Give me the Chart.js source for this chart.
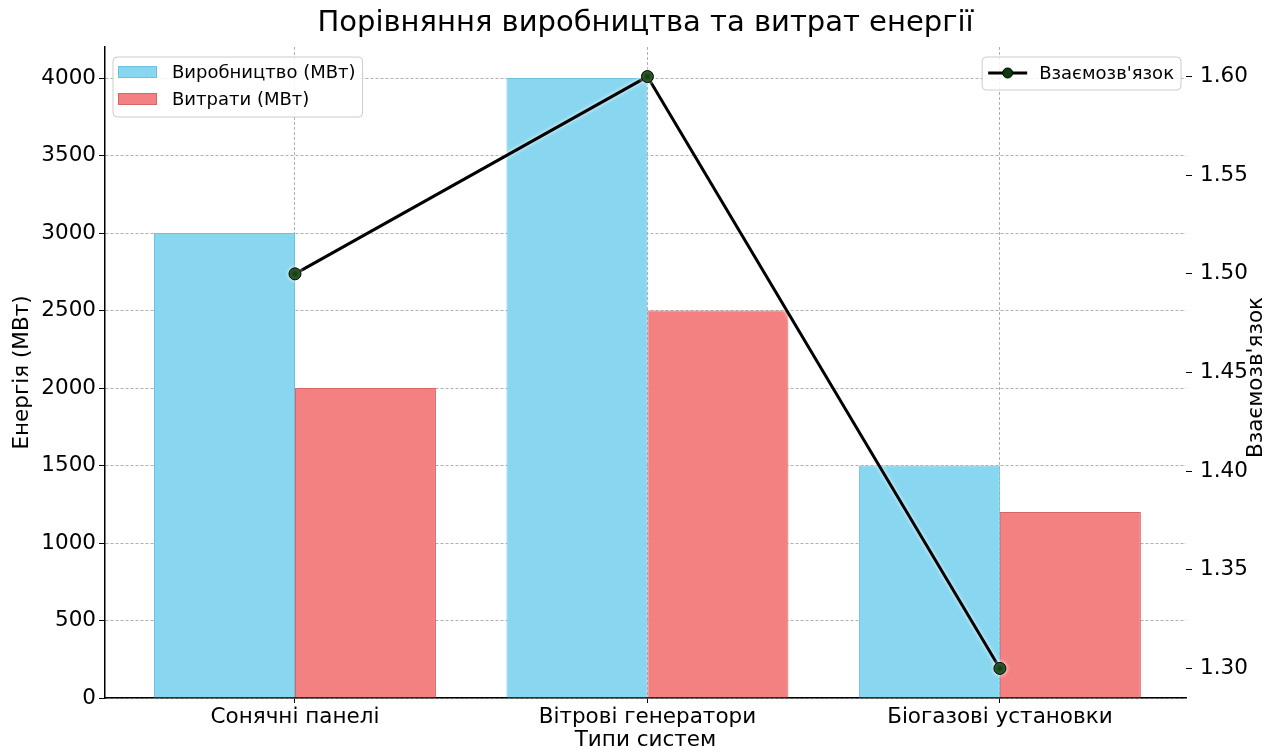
<!DOCTYPE html>
<html><head><meta charset="utf-8">
<script src="https://cdn.jsdelivr.net/npm/chart.js@4.4.0/dist/chart.umd.min.js"></script>
<style>html,body{margin:0;padding:0;background:#fff;overflow:hidden}#wrap{width:1273px;height:751px}</style>
</head><body><div id="wrap"><canvas id="c" width="1273" height="751"></canvas></div>
<script>
const chartTitle = 'Порівняння виробництва та витрат енергії';
const categories = ['Сонячні панелі', 'Вітрові генератори', 'Біогазові установки'];
const production = [3000, 4000, 1500];
const consumption = [2000, 2500, 1200];
const relation = [1.50, 1.60, 1.30];
const leftTicks = [0, 500, 1000, 1500, 2000, 2500, 3000, 3500, 4000];
const rightTicks = [1.30, 1.35, 1.40, 1.45, 1.50, 1.55, 1.60];
const seriesNames = ['Виробництво (МВт)', 'Витрати (МВт)', "Взаємозв'язок"];
const xTitle = 'Типи систем';
const yTitle = 'Енергія (МВт)';
const y1Title = "Взаємозв'язок";

const FONT = "'DejaVu Sans', sans-serif";
const AX = 21.5;
const BLUE = '#88d6ef', BLUE_B = '#6cc2df';
const RED = '#f48182', RED_B = '#d86666';

const glowPlugin = {
  id: 'glow',
  beforeDatasetDraw(chart, args) {
    if (args.index === 2) {
      const ctx = chart.ctx;
      ctx.save();
      ctx.shadowColor = 'rgba(255,255,255,0.9)';
      ctx.shadowBlur = 4;
    }
  },
  afterDatasetDraw(chart, args) {
    if (args.index === 2) chart.ctx.restore();
  }
};

function legendBox(ctx, x, y, w, h) {
  ctx.save();
  ctx.fillStyle = 'rgba(255,255,255,0.85)';
  ctx.strokeStyle = '#cccccc';
  ctx.lineWidth = 1;
  const r = 4;
  ctx.beginPath();
  ctx.moveTo(x + r, y);
  ctx.arcTo(x + w, y, x + w, y + h, r);
  ctx.arcTo(x + w, y + h, x, y + h, r);
  ctx.arcTo(x, y + h, x, y, r);
  ctx.arcTo(x, y, x + w, y, r);
  ctx.closePath();
  ctx.fill();
  ctx.stroke();
  ctx.restore();
}

const customPlugin = {
  id: 'custom',
  afterDraw(chart) {
    const ctx = chart.ctx;
    const a = chart.chartArea;
    ctx.save();
    ctx.font = '18px ' + FONT;
    ctx.textBaseline = 'middle';
    ctx.fillStyle = '#000';
    const ds = chart.data.datasets;
    // left legend
    const w1 = Math.max(ctx.measureText(ds[0].label).width, ctx.measureText(ds[1].label).width);
    const lx = 113, ly = 57;
    legendBox(ctx, lx, ly, 66 + w1, 60);
    [[ds[0], 72], [ds[1], 99]].forEach(([d, yy]) => {
      ctx.fillStyle = d.backgroundColor;
      ctx.strokeStyle = d.borderColor;
      ctx.lineWidth = 1;
      ctx.fillRect(lx + 5, yy - 6, 39, 12);
      ctx.strokeRect(lx + 5.5, yy - 5.5, 38, 11);
      ctx.fillStyle = '#000';
      ctx.fillText(d.label, lx + 59, yy + 1);
    });
    // right legend
    const w2 = ctx.measureText(ds[2].label).width;
    const rw = 64 + w2;
    const rx = a.right - 5 - rw, ry = 57;
    legendBox(ctx, rx, ry, rw, 33);
    const cy = ry + 16;
    ctx.strokeStyle = '#000';
    ctx.lineWidth = 3;
    ctx.beginPath();
    ctx.moveTo(rx + 6, cy); ctx.lineTo(rx + 45, cy); ctx.stroke();
    ctx.beginPath();
    ctx.arc(rx + 25.5, cy, 5, 0, Math.PI * 2);
    ctx.fillStyle = '#0b3d0b'; ctx.fill();
    ctx.lineWidth = 1; ctx.stroke();
    ctx.fillStyle = '#000';
    ctx.fillText(ds[2].label, rx + 57, cy + 1);
    // right axis title (reads bottom to top)
    ctx.font = AX + 'px ' + FONT;
    ctx.textAlign = 'center';
    ctx.translate(1256, (a.top + a.bottom) / 2 + 5);
    ctx.rotate(-Math.PI / 2);
    ctx.fillText(y1Title, 0, 0);
    ctx.restore();
  }
};

new Chart(document.getElementById('c'), {
  type: 'bar',
  data: {
    datasets: [
      {
        type: 'bar', label: seriesNames[0], order: 2,
        data: categories.map((c, i) => ({ x: i, y: production[i] })),
        backgroundColor: BLUE, borderColor: BLUE_B, borderWidth: 1,
        xAxisID: 'x', yAxisID: 'y'
      },
      {
        type: 'bar', label: seriesNames[1], order: 2,
        data: categories.map((c, i) => ({ x: i, y: consumption[i] })),
        backgroundColor: RED, borderColor: RED_B, borderWidth: 1,
        xAxisID: 'x', yAxisID: 'y'
      },
      {
        type: 'line', label: seriesNames[2], order: 0,
        data: categories.map((c, i) => ({ x: i, y: relation[i] })),
        borderColor: '#000', borderWidth: 3, tension: 0,
        pointRadius: 6, pointBackgroundColor: '#0b3d0b', pointBorderColor: '#000', pointBorderWidth: 1,
        xAxisID: 'x', yAxisID: 'y1'
      }
    ]
  },
  options: {
    responsive: false,
    animation: false,
    events: [],
    layout: { padding: 0 },
    datasets: { bar: { categoryPercentage: 0.8, barPercentage: 1.0 } },
    plugins: {
      legend: { display: false },
      tooltip: { enabled: false },
      title: {
        display: true, text: chartTitle, fullSize: false, color: '#000',
        font: { family: FONT, size: 29, weight: 'normal', lineHeight: 1 },
        padding: { top: 9, bottom: 9 }
      }
    },
    scales: {
      x: {
        type: 'linear', position: 'bottom', min: -0.539, max: 2.528, offset: false,
        afterBuildTicks: s => { s.ticks = categories.map((c, i) => ({ value: i })); },
        afterFit: s => { s.height = 53; },
        ticks: {
          callback: v => categories[v], color: '#000', padding: 2, maxRotation: 0, autoSkip: false,
          font: { family: FONT, size: AX }
        },
        grid: { offset: false, color: '#b0b0b0', lineWidth: 1, drawTicks: true, tickLength: 5, tickColor: '#000', tickBorderDash: [], tickWidth: 1 },
        border: { display: true, color: '#000', width: 1.5, dash: [3, 2] },
        title: { display: true, text: xTitle, color: '#000', font: { family: FONT, size: AX, lineHeight: 1 }, padding: { top: 0, bottom: 0 } }
      },
      y: {
        type: 'linear', position: 'left', min: 0, max: 4200,
        afterBuildTicks: s => { s.ticks = leftTicks.map(v => ({ value: v })); },
        afterFit: s => { s.width = 105; },
        ticks: { color: '#000', padding: 3, font: { family: FONT, size: AX }, callback: v => String(v) },
        grid: { color: '#b0b0b0', lineWidth: 1, drawTicks: true, tickLength: 6, tickColor: '#000', tickBorderDash: [], tickWidth: 1 },
        border: { display: true, color: '#000', width: 1.5, dash: [3, 2] },
        title: { display: true, text: yTitle, color: '#000', font: { family: FONT, size: AX, lineHeight: 1.2 }, padding: { top: 10, bottom: 0 } }
      },
      y1: {
        type: 'linear', position: 'right', min: 1.285, max: 1.615,
        afterBuildTicks: s => { s.ticks = rightTicks.map(v => ({ value: v })); },
        afterFit: s => { s.width = 87; },
        ticks: { color: '#000', padding: 8, font: { family: FONT, size: AX }, callback: v => v.toFixed(2) },
        grid: { drawOnChartArea: false, drawTicks: true, tickLength: 6, tickColor: '#000', tickWidth: 1 },
        border: { display: false }
      }
    }
  },
  plugins: [glowPlugin, customPlugin]
});
</script>
</body></html>
